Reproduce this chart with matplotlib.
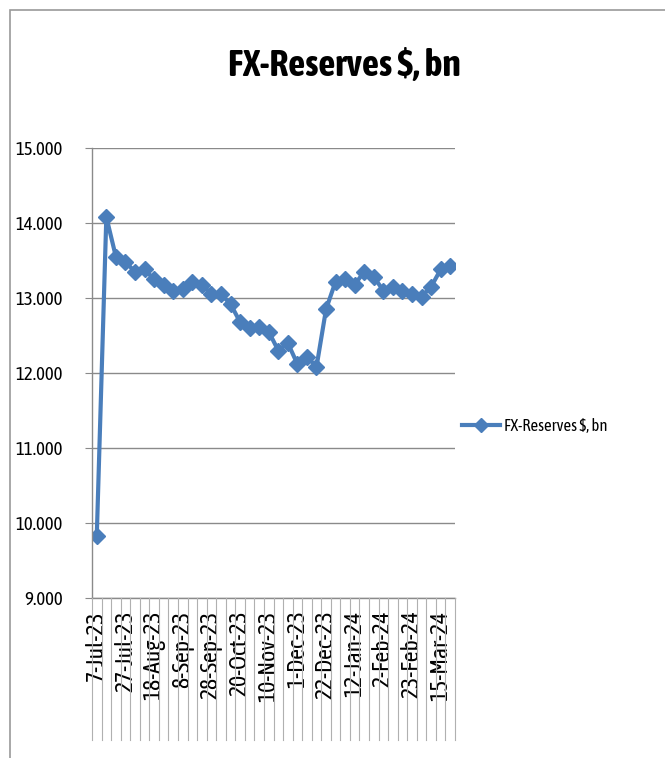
import matplotlib
matplotlib.use('Agg')
import matplotlib.pyplot as plt
from matplotlib.patches import Rectangle
from matplotlib.lines import Line2D

plt.rcParams['font.family'] = ['Asap Condensed', 'Lato', 'DejaVu Sans']

# weekly dates (category axis), labels every 3rd point
dates = ['7-Jul-23', '14-Jul-23', '21-Jul-23', '27-Jul-23', '4-Aug-23', '11-Aug-23',
         '18-Aug-23', '25-Aug-23', '1-Sep-23', '8-Sep-23', '15-Sep-23', '22-Sep-23',
         '28-Sep-23', '6-Oct-23', '13-Oct-23', '20-Oct-23', '27-Oct-23', '3-Nov-23',
         '10-Nov-23', '17-Nov-23', '24-Nov-23', '1-Dec-23', '8-Dec-23', '15-Dec-23',
         '22-Dec-23', '29-Dec-23', '5-Jan-24', '12-Jan-24', '19-Jan-24', '26-Jan-24',
         '2-Feb-24', '9-Feb-24', '16-Feb-24', '23-Feb-24', '1-Mar-24', '8-Mar-24',
         '15-Mar-24', '22-Mar-24']
reserves = [9.83, 14.08, 13.55, 13.48, 13.35, 13.38, 13.25, 13.18, 13.10, 13.12,
            13.22, 13.18, 13.05, 13.05, 12.92, 12.68, 12.60, 12.62, 12.55, 12.30,
            12.40, 12.12, 12.22, 12.08, 12.85, 13.22, 13.25, 13.18, 13.35, 13.28,
            13.10, 13.15, 13.10, 13.05, 13.02, 13.15, 13.38, 13.43]
yticks = [9, 10, 11, 12, 13, 14, 15]

W, H = 665, 758
fig = plt.figure(figsize=(W / 100, H / 100), dpi=100)

# chart area border
fig.patches.append(Rectangle((10 / W, -0.01), 1.0, 1 - 10 / H + 0.01,
                             transform=fig.transFigure, fill=False,
                             edgecolor='#9a9a9a', linewidth=1.2))

ax = fig.add_axes([92 / W, 1 - 598 / H, (455 - 92) / W, (598 - 148) / H])
n = len(reserves)
x = list(range(n))
blue = '#4a7ebb'
ax.plot(x, reserves, color=blue, linewidth=3.0, marker='D', markersize=8,
        markerfacecolor=blue, markeredgecolor=blue, label='FX-Reserves $, bn')

ax.set_xlim(-0.5, n - 0.5)
ax.set_ylim(9, 15)
ax.set_yticks(yticks)
ax.set_yticklabels(['%.3f' % v for v in yticks], fontsize=13.5)
ax.yaxis.grid(True, color='#8a8a8a', linewidth=1.0)
ax.set_axisbelow(True)
ax.tick_params(axis='y', length=5, color='#8a8a8a', pad=16)

ax.set_xticks(x[::3])
ax.set_xticklabels(dates[::3], rotation=90, fontsize=17, va='top')
ax.tick_params(axis='x', length=0, pad=9)

for s in ['top', 'right']:
    ax.spines[s].set_visible(False)
for s in ['left', 'bottom']:
    ax.spines[s].set_color('#8a8a8a')
    ax.spines[s].set_linewidth(1.0)

# long category tick lines below the axis
for b in range(n + 1):
    xf = (92 + (455 - 92) * b / n) / W
    fig.add_artist(Line2D([xf, xf], [1 - 598 / H, 1 - 740 / H],
                          transform=fig.transFigure, color='#b0b0b0', linewidth=0.8))

fig.text(344 / W, 1 - 62 / H, 'FX-Reserves $, bn', ha='center', va='center_baseline',
         fontsize=27, fontweight='bold')

fig.legend(handles=[Line2D([0], [0], color=blue, linewidth=3.0, marker='D',
                           markersize=7, markerfacecolor=blue)],
           labels=['FX-Reserves $, bn'], loc='center left',
           bbox_to_anchor=(447 / W, 1 - 426 / H), frameon=False, fontsize=12,
           handlelength=2.3, handletextpad=0.2)

fig.savefig('out.png', dpi=100)
